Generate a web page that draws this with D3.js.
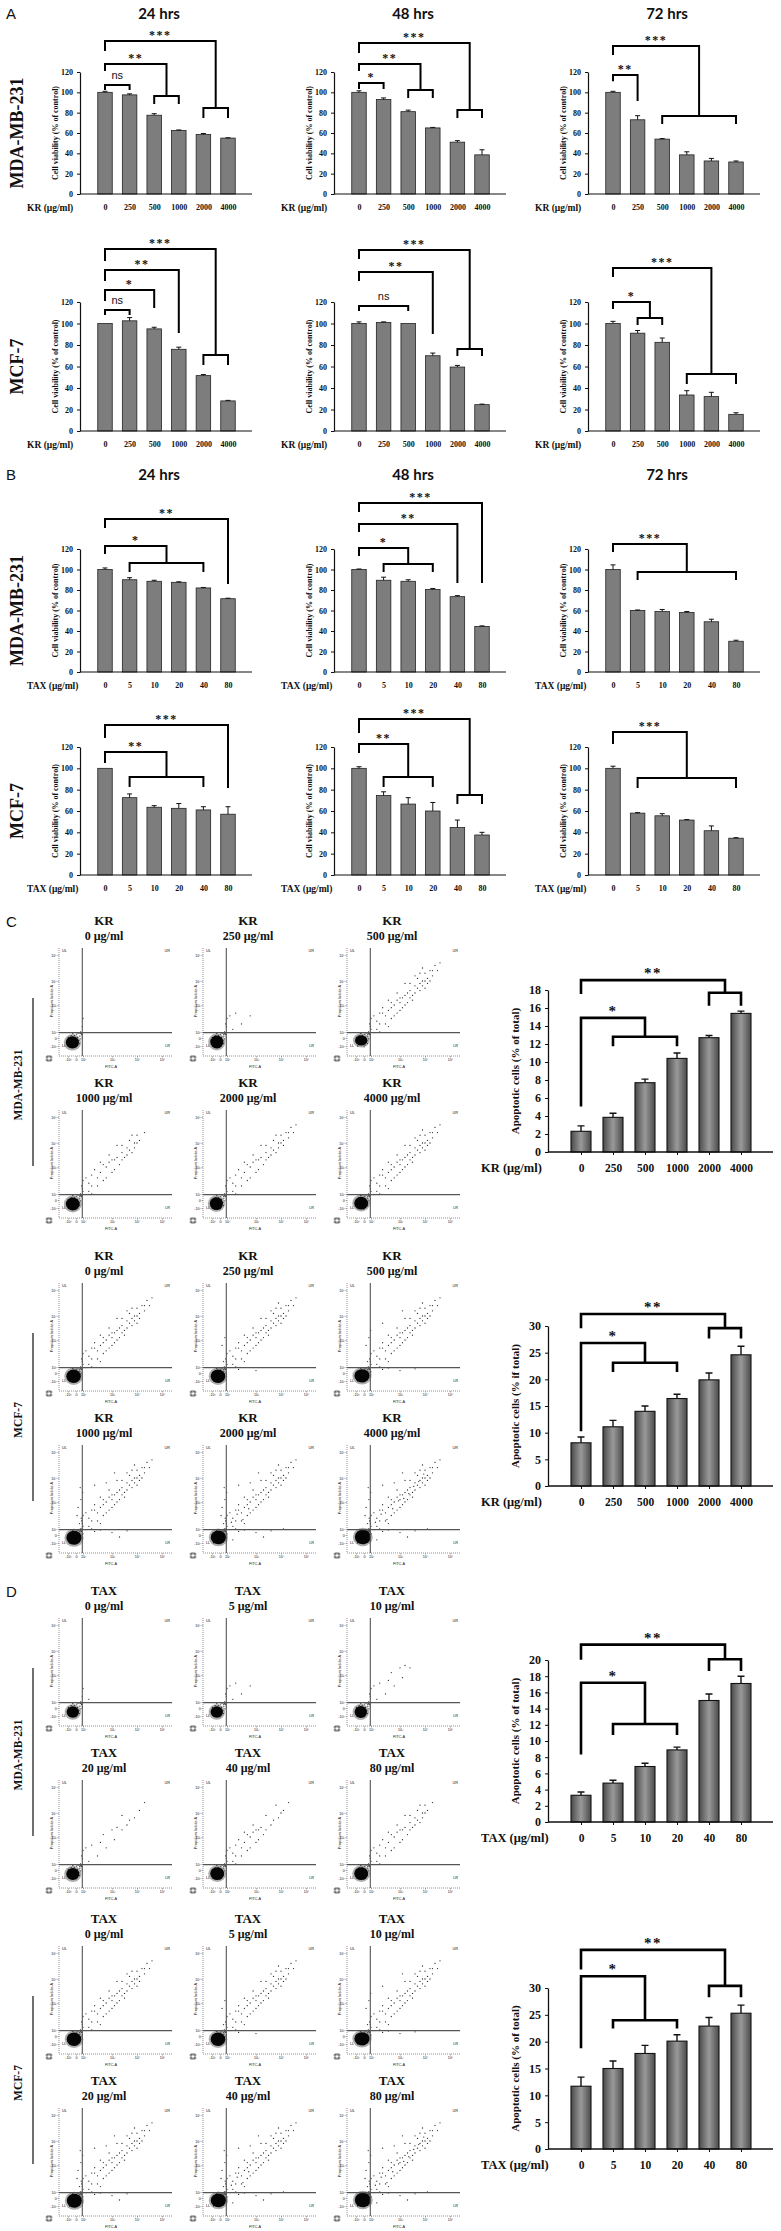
<!DOCTYPE html>
<html>
<head>
<meta charset="utf-8">
<script src="https://cdn.jsdelivr.net/npm/d3@7"></script>
<style>
  body { margin: 0; background: #fff; }
  svg { display: block; }
</style>
</head>
<body>
<script>
// ---- categories / ticks ----
var krDoses = ["0", "250", "500", "1000", "2000", "4000"];
var taxDoses = ["0", "5", "10", "20", "40", "80"];
var hourTitles = ["24 hrs", "48 hrs", "72 hrs"];
var viabilityTicks = [0, 20, 40, 60, 80, 100, 120];
var apoTicks18 = [0, 2, 4, 6, 8, 10, 12, 14, 16, 18];
var apoTicks20 = [0, 2, 4, 6, 8, 10, 12, 14, 16, 18, 20];
var apoTicks30 = [0, 5, 10, 15, 20, 25, 30];

// ---- cell viability (% of control), one list per time point ----
var krMdaMean = [[100, 97.5, 77.5, 62.5, 58.5, 55], [100, 93, 81, 65, 51, 38.5], [100, 73, 54, 38.5, 32.5, 31.5]];
var krMdaErr  = [[1, 1, 1.5, 0.5, 1, 0.3], [1.5, 1.5, 1.5, 0.5, 1.5, 5], [1, 4, 0.5, 3, 2.5, 1]];
var krMcfMean = [[100, 102.5, 95, 76, 51.5, 28], [100, 101, 100, 70, 59.5, 24.5], [100, 91, 82.5, 33.5, 32, 15.5]];
var krMcfErr  = [[0, 3, 1.5, 2, 1, 0.5], [1.5, 0.5, 0, 2.5, 1.5, 0.5], [2, 2.5, 4, 4, 4, 1.5]];
var taxMdaMean = [[100, 90, 88.5, 87.5, 82, 71.5], [100, 89.5, 88.5, 80.5, 73.5, 44.5], [100, 60, 59, 58, 49, 30]];
var taxMdaErr  = [[1.5, 2, 1, 0.5, 0.5, 0.5], [0.5, 3, 1.5, 1, 1, 0.5], [4.5, 0.5, 2, 1, 2.5, 1]];
var taxMcfMean = [[100, 72.5, 63.5, 62.5, 61, 57], [100, 74.5, 66.5, 60, 44.5, 37.5], [100, 58, 55.5, 51.5, 41.5, 34.5]];
var taxMcfErr  = [[0, 3.5, 1.5, 4.5, 3, 7], [1.5, 3.5, 6, 8, 7, 2.5], [2, 0.5, 2, 0.5, 4.5, 0.5]];

// significance brackets: [label, level, left leg end, target bar or [first,last], right level, sub leg end]
var krMdaBrackets = [
  [["***", 150.5, 141.6, [4, 5], 84.6, 75.7], ["**", 127.9, 122, [2, 3], 96.4, 89.5], ["ns", 107.2, 103.3, 1, 103.3]],
  [["***", 148.5, 139.7, [4, 5], 82.6, 75.7], ["**", 127.9, 122, [2, 3], 102.3, 95.4], ["*", 109.2, 104.3, 1, 104.3]],
  [["***", 145.6, 137.7, [2, 5], 76.7, 69.8], ["**", 117, 112, 1, 92.5]]
];
var krMcfBrackets = [
  [["***", 169.3, 159, [4, 5], 70.7, 62.3], ["**", 149.8, 140.5, 3, 92.1], ["*", 131.2, 121.9, 2, 115.3], ["ns", 112.6, 108.8, 1, 108.8]],
  [["***", 168.4, 161, [4, 5], 76.3, 70.7], ["**", 147.9, 140.5, 3, 91.2], ["ns", 116.3, 112.6, 2, 112.6]],
  [["***", 151.6, 144.2, [3, 5], 53, 44.7], ["*", 120, 114.4, [1, 2], 105.1, 99.5]]
];
var taxMdaBrackets = [
  [["**", 149.3, 141.5, 5, 86.8], ["*", 122.9, 116.1, [1, 4], 106.3, 98.5]],
  [["***", 164.9, 157, 5, 87.8], ["**", 144.4, 137.6, 4, 87.8], ["*", 121, 114.1, [1, 3], 105.4, 98.5]],
  [["***", 124.9, 118, [1, 5], 97.6, 90.7]]
];
var taxMcfBrackets = [
  [["***", 140.6, 129.4, 5, 82.5], ["**", 115.3, 105.9, [1, 4], 91.9, 83.4]],
  [["***", 146.2, 134, [4, 5], 75, 67.5], ["**", 122.8, 115.3, [1, 3], 91.9, 83.4]],
  [["***", 134, 123.7, [1, 5], 90.9, 82.5]]
];

// ---- apoptotic cells (%) ----
var krMdaApo = [2.3, 3.85, 7.7, 10.4, 12.7, 15.4];
var krMdaApoErr = [0.6, 0.45, 0.4, 0.6, 0.25, 0.25];
var krMcfApo = [8.1, 11.1, 14.0, 16.4, 19.9, 24.6];
var krMcfApoErr = [1.1, 1.2, 1.0, 0.8, 1.3, 1.6];
var taxMdaApo = [3.3, 4.8, 6.85, 8.9, 15.0, 17.1];
var taxMdaApoErr = [0.4, 0.35, 0.4, 0.35, 0.8, 0.9];
var taxMcfApo = [11.7, 15.0, 17.8, 20.1, 22.9, 25.3];
var taxMcfApoErr = [1.7, 1.4, 1.5, 1.2, 1.6, 1.5];

var krMdaApoBrackets = [["**", 19.1, 17.7, [4, 5], 17.7, 16.4], ["*", 14.9, 5.2, [1, 3], 12.8, 11.9]];
var krMcfApoBrackets = [["**", 32.25, 29.8, [4, 5], 29.6, 27.9], ["*", 26.8, 10.5, [1, 3], 23.1, 21.6]];
var taxMdaApoBrackets = [["**", 21.9, 20.2, [4, 5], 20.1, 18.8], ["*", 17.2, 8.5, [1, 3], 12.1, 10.9]];
var taxMcfApoBrackets = [["**", 37.1, 33.7, [4, 5], 30.4, 28.5], ["*", 32.2, 19, [1, 3], 24, 22.7]];

// ---- flow cytometry dot plots (values in signed log10 units) ----
var flowTickExp = [-2, 0, 2, 3, 4, 5];
var flowTickLabels = ["-10\u00b2", "0", "10\u00b2", "10\u00b3", "10\u2074", "10\u2075"];
// events, most common first
var flowEvents = [
  [0.4, 0.2], [0.8, -0.6], [-0.4, 0.9], [1.1, 0.6], [0.2, 1.3], [1.4, -0.2], [-1.2, 0.8], [0.6, 1.6],
  [1.6, 1.1], [-0.8, 1.5], [1.0, -1.4], [0.0, -2.2], [-1.6, -2.0], [1.8, 0.3], [0.3, -1.8], [-1.9, 0.2],
  [1.2, 1.5], [1.5, 1.7], [1.8, 2.2], [1.3, 2.0], [1.7, 1.4], [2.0, 2.5], [1.9, 1.9], [2.2, 2.1],
  [1.1, 1.2], [1.6, 2.3], [2.3, 2.7], [2.5, 2.3], [2.1, 2.6], [2.8, 2.6], [2.6, 2.8], [3.0, 3.3],
  [3.2, 3.4], [3.4, 3.3], [3.1, 2.9], [2.7, 3.1], [3.6, 3.5], [3.7, 3.7], [3.9, 3.8], [4.1, 4.1],
  [4.3, 4.4], [3.4, 3.9], [3.8, 4.3], [4.0, 4.0], [2.9, 3.2], [2.3, 2.3],
  [2.0, 2.1], [2.2, 2.4], [2.3, 2.0], [2.5, 2.6], [2.4, 2.9], [2.7, 2.5], [2.8, 3.0], [2.6, 3.2],
  [3.0, 2.8], [3.1, 3.3], [2.9, 3.5], [3.3, 3.1], [3.4, 3.6], [3.2, 3.9], [3.5, 3.4], [3.6, 3.8],
  [3.7, 4.1], [3.8, 3.6], [3.9, 4.0], [4.0, 4.3], [4.1, 3.9], [4.2, 4.4], [4.3, 4.2], [4.4, 4.6],
  [4.5, 4.4], [4.6, 4.7], [2.1, 1.8], [2.6, 2.2], [2.9, 2.7], [3.2, 3.0], [3.5, 3.2], [3.3, 3.5],
  [3.0, 3.1], [2.7, 2.9], [2.4, 2.7], [3.8, 3.9], [4.0, 3.7], [3.6, 4.2], [3.9, 4.5], [4.2, 4.0],
  [1.0, 2.2], [0.6, 2.8], [1.4, 3.1], [0.9, 1.9], [2.4, 1.2], [3.0, 0.8], [3.6, 1.4], [2.0, 0.4],
  [2.6, 1.7], [1.9, 3.4], [2.4, 3.7], [3.1, 4.2], [1.7, 2.0], [1.5, 2.4], [2.8, 3.8], [0.3, 2.5],
  [1.2, 3.6], [3.3, -0.5], [2.2, -1.2], [4.1, 2.0], [2.15, 2.25], [2.35, 2.55], [2.55, 2.35], [2.75, 2.75],
  [2.95, 3.05], [3.15, 3.15], [3.35, 3.35], [3.55, 3.65], [3.75, 3.85], [3.95, 4.15]
];
// main population per plot: [centre x, centre y, spread x, spread y]
var krMdaBlobs = [[-0.9, -1.1, 1.7, 1.6], [-0.8, -1.0, 1.7, 1.7], [-0.7, -0.6, 1.6, 1.4], [-0.8, -1.0, 1.8, 1.7], [-0.9, -0.9, 1.7, 1.7], [-0.7, -0.8, 1.8, 1.7]];
var krMdaEvents = [22, 30, 86, 66, 72, 86];
var krMcfBlobs = [[-0.6, -0.8, 1.9, 1.8], [-0.5, -0.8, 1.9, 1.8], [-0.5, -0.7, 2.0, 1.8], [-0.5, -0.7, 2.0, 1.9], [-0.4, -0.6, 2.0, 1.9], [-0.3, -0.5, 2.1, 2.0]];
var krMcfEvents = [84, 92, 98, 104, 110, 116];
var taxMdaBlobs = [[-0.8, -1.0, 1.6, 1.5], [-0.8, -1.0, 1.6, 1.5], [-0.8, -1.0, 1.6, 1.6], [-0.8, -1.0, 1.7, 1.6], [-0.7, -0.9, 1.8, 1.7], [-0.7, -0.9, 1.8, 1.7]];
var taxMdaEvents = [24, 30, 36, 42, 58, 66];
var taxMcfBlobs = [[-0.5, -0.8, 1.9, 1.8], [-0.5, -0.8, 1.9, 1.8], [-0.5, -0.7, 2.0, 1.8], [-0.4, -0.7, 2.0, 1.9], [-0.4, -0.6, 2.0, 1.9], [-0.3, -0.5, 2.1, 2.0]];
var taxMcfEvents = [84, 92, 98, 104, 110, 116];

// ---- drawing ----
var SERIF = "'Liberation Serif','Times New Roman',serif";
var SANS = "'Liberation Sans',Arial,sans-serif";
var TITLE = "Lato,'Open Sans',sans-serif";

var W = 781, H = 2231;
var svg = d3.select("body").append("svg").attr("width", W).attr("height", H);
svg.append("rect").attr("width", W).attr("height", H).attr("fill", "#fff");

var grad = svg.append("defs").append("linearGradient")
  .attr("id", "barGrad").attr("x1", 0).attr("x2", 1).attr("y1", 0).attr("y2", 0);
grad.append("stop").attr("offset", "0%").attr("stop-color", "#4a4a4a");
grad.append("stop").attr("offset", "50%").attr("stop-color", "#9a9a9a");
grad.append("stop").attr("offset", "100%").attr("stop-color", "#4a4a4a");

function styleText(sel, size, family, weight) {
  sel.attr("font-family", family || SERIF).attr("font-weight", weight || "bold")
    .attr("font-size", size).attr("fill", "#111");
}

function label(x, y, txt, size, family, weight, anchor) {
  var t = svg.append("text").attr("x", x).attr("y", y).attr("text-anchor", anchor || "middle").text(txt);
  styleText(t, size, family, weight);
  return t;
}

function vlabel(x, y, txt, size) {
  var t = svg.append("text").attr("transform", "translate(" + x + "," + y + ") rotate(-90)")
    .attr("text-anchor", "middle").text(txt);
  styleText(t, size);
  return t;
}

function drawBrackets(g, x, y, doses, list, sw, fs) {
  list.forEach(function (b) {
    var lab = b[0], level = b[1], lEnd = b[2], target = b[3], rLevel = b[4], subEnd = b[5];
    var xa = x(doses[0]), xr, p;
    if (Array.isArray(target)) {
      var x1 = x(doses[target[0]]), x2 = x(doses[target[1]]);
      xr = (x1 + x2) / 2;
      p = "M" + xa + "," + y(lEnd) + "V" + y(level) + "H" + xr + "V" + y(rLevel) +
          "M" + x1 + "," + y(subEnd) + "V" + y(rLevel) + "H" + x2 + "V" + y(subEnd);
    } else {
      xr = x(doses[target]);
      p = "M" + xa + "," + y(lEnd) + "V" + y(level) + "H" + xr + "V" + y(rLevel);
    }
    g.append("path").attr("d", p).attr("fill", "none").attr("stroke", "#000")
      .attr("stroke-width", sw).attr("stroke-linecap", "square");
    var t = g.append("text").attr("x", (xa + xr) / 2).attr("text-anchor", "middle").text(lab);
    if (lab === "ns") {
      t.attr("y", y(level) - 6);
      styleText(t, fs - 1, SANS, "normal");
    } else {
      t.attr("y", y(level) - 2).attr("letter-spacing", 1.5);
      styleText(t, fs);
    }
  });
}

function errorBars(g, x, y, doses, means, errs, cap, sw) {
  means.forEach(function (m, i) {
    if (!errs[i]) return;
    var cx = x(doses[i]), y1 = y(m), y2 = y(m + errs[i]);
    g.append("path").attr("d", "M" + cx + "," + y1 + "V" + y2 + "M" + (cx - cap / 2) + "," + y2 + "H" + (cx + cap / 2))
      .attr("stroke", "#111").attr("stroke-width", sw).attr("fill", "none");
  });
}

// viability bar chart (panels A and B)
function viability(ax, base, top, means, errs, doses, drug, brackets) {
  var g = svg.append("g");
  var y = d3.scaleLinear().domain([0, 120]).range([base, top]);
  var x = d3.scalePoint().domain(doses).range([ax + 25, ax + 148]);
  var bw = 14.5;

  g.selectAll("rect.bar").data(means).join("rect").attr("class", "bar")
    .attr("x", function (d, i) { return x(doses[i]) - bw / 2; })
    .attr("y", function (d) { return y(d); })
    .attr("width", bw)
    .attr("height", function (d) { return base - y(d); })
    .attr("fill", "#7d7d7d").attr("stroke", "#222").attr("stroke-width", 0.8);
  errorBars(g, x, y, doses, means, errs, 5, 1);

  var ya = g.append("g").attr("transform", "translate(" + ax + ",0)")
    .call(d3.axisLeft(y).tickValues(viabilityTicks).tickSize(3).tickSizeOuter(0).tickPadding(4));
  ya.select(".domain").attr("stroke", "#111").attr("stroke-width", 1.2);
  ya.selectAll(".tick line").attr("stroke", "#111");
  styleText(ya.selectAll("text"), 8);

  g.append("line").attr("x1", ax).attr("x2", ax + 172).attr("y1", base).attr("y2", base)
    .attr("stroke", "#111").attr("stroke-width", 1.2);
  var xa = g.append("g").attr("transform", "translate(0," + base + ")")
    .call(d3.axisBottom(x).tickSize(0).tickPadding(10));
  xa.select(".domain").remove();
  styleText(xa.selectAll("text"), 8);

  var xt = g.append("text").attr("x", ax - 53).attr("y", base + 17).text(drug + " (\u03bcg/ml)");
  styleText(xt, 9.5);
  var yt = g.append("text").attr("transform", "translate(" + (ax - 22) + "," + ((base + top) / 2) + ") rotate(-90)")
    .attr("text-anchor", "middle").text("Cell viability (% of control)");
  styleText(yt, 8);

  drawBrackets(g, x, y, doses, brackets, 2, 12);
}

var vAxisX = [80, 334, 588];
var vRows = [
  { base: 194, top: 72, cell: "MDA-MB-231", drug: "KR", doses: krDoses, means: krMdaMean, errs: krMdaErr, brk: krMdaBrackets },
  { base: 431, top: 302, cell: "MCF-7", drug: "KR", doses: krDoses, means: krMcfMean, errs: krMcfErr, brk: krMcfBrackets },
  { base: 672, top: 549, cell: "MDA-MB-231", drug: "TAX", doses: taxDoses, means: taxMdaMean, errs: taxMdaErr, brk: taxMdaBrackets },
  { base: 875, top: 747, cell: "MCF-7", drug: "TAX", doses: taxDoses, means: taxMcfMean, errs: taxMcfErr, brk: taxMcfBrackets }
];

vRows.forEach(function (r) {
  vAxisX.forEach(function (ax, h) {
    viability(ax, r.base, r.top, r.means[h], r.errs[h], r.doses, r.drug, r.brk[h]);
  });
  vlabel(23, (r.base + r.top) / 2, r.cell, 18);
});

// panel letters and time titles
label(6, 19, "A", 15, SANS, "normal", "start");
label(6, 480, "B", 15, SANS, "normal", "start");
label(6, 927, "C", 15, SANS, "normal", "start");
label(6, 1597, "D", 15, SANS, "normal", "start");
[19, 480].forEach(function (ty) {
  vAxisX.forEach(function (ax, h) { label(ax + 79, ty, hourTitles[h], 15, TITLE, "bold"); });
});

// apoptosis bar chart (panels C and D)
function apoptosis(base, top, ticks, means, errs, doses, drug, ylab, brackets) {
  var g = svg.append("g");
  var ax = 548;
  var y = d3.scaleLinear().domain([0, ticks[ticks.length - 1]]).range([base, top]);
  var x = d3.scalePoint().domain(doses).range([581, 741]);
  var bw = 20;

  g.selectAll("rect.bar").data(means).join("rect").attr("class", "bar")
    .attr("x", function (d, i) { return x(doses[i]) - bw / 2; })
    .attr("y", function (d) { return y(d); })
    .attr("width", bw)
    .attr("height", function (d) { return base - y(d); })
    .attr("fill", "url(#barGrad)").attr("stroke", "#111").attr("stroke-width", 1.1);
  errorBars(g, x, y, doses, means, errs, 7, 1.4);

  var ya = g.append("g").attr("transform", "translate(" + ax + ",0)")
    .call(d3.axisLeft(y).tickValues(ticks).tickSize(3).tickSizeOuter(0).tickPadding(4));
  ya.select(".domain").attr("stroke", "#111").attr("stroke-width", 1.3);
  ya.selectAll(".tick line").attr("stroke", "#111");
  styleText(ya.selectAll("text"), 12);

  g.append("line").attr("x1", ax).attr("x2", 773).attr("y1", base).attr("y2", base)
    .attr("stroke", "#111").attr("stroke-width", 1.3);
  var xa = g.append("g").attr("transform", "translate(0," + base + ")")
    .call(d3.axisBottom(x).tickSize(3).tickPadding(9));
  xa.select(".domain").remove();
  xa.selectAll(".tick line").attr("stroke", "#111");
  styleText(xa.selectAll("text"), 11.5);

  var xt = g.append("text").attr("x", 481).attr("y", base + 20).text(drug + " (\u03bcg/ml)");
  styleText(xt, 12.5);
  var yt = g.append("text").attr("transform", "translate(519," + ((base + top) / 2) + ") rotate(-90)")
    .attr("text-anchor", "middle").text(ylab);
  styleText(yt, 11);

  drawBrackets(g, x, y, doses, brackets, 2.6, 15);
}

apoptosis(1152, 990, apoTicks18, krMdaApo, krMdaApoErr, krDoses, "KR", "Apoptotic cells (% of total)", krMdaApoBrackets);
apoptosis(1486, 1326, apoTicks30, krMcfApo, krMcfApoErr, krDoses, "KR", "Apoptotic cells (% if total)", krMcfApoBrackets);
apoptosis(1822, 1660, apoTicks20, taxMdaApo, taxMdaApoErr, taxDoses, "TAX", "Apoptotic cells (% of total)", taxMdaApoBrackets);
apoptosis(2149, 1988, apoTicks30, taxMcfApo, taxMcfApoErr, taxDoses, "TAX", "Apoptotic cells (% of total)", taxMcfApoBrackets);

// flow cytometry dot plot
function flowPlot(L, T, blob, n) {
  var g = svg.append("g");
  var x = d3.scaleLinear().domain(flowTickExp).range([L + 9, L + 17, L + 24, L + 53, L + 78, L + 103]);
  var y = d3.scaleLinear().domain(flowTickExp).range([T + 98, T + 90, T + 84, T + 57, T + 33, T + 7]);

  g.append("path").attr("d", "M" + L + "," + T + "V" + (T + 108) + "H" + (L + 113))
    .attr("fill", "none").attr("stroke", "#777").attr("stroke-width", 0.8).attr("stroke-dasharray", "1,1");

  var ya = g.append("g").attr("transform", "translate(" + L + ",0)")
    .call(d3.axisLeft(y).tickValues(flowTickExp).tickFormat(function (d, i) { return flowTickLabels[i]; }).tickSize(1.5).tickPadding(0.8));
  ya.select(".domain").remove();
  ya.selectAll(".tick line").attr("stroke", "#666").attr("stroke-width", 0.5);
  styleText(ya.selectAll("text"), 3.6, SANS, "normal");
  var xa = g.append("g").attr("transform", "translate(0," + (T + 108) + ")")
    .call(d3.axisBottom(x).tickValues(flowTickExp).tickFormat(function (d, i) { return flowTickLabels[i]; }).tickSize(1.5).tickPadding(0.8));
  xa.select(".domain").remove();
  xa.selectAll(".tick line").attr("stroke", "#666").attr("stroke-width", 0.5);
  styleText(xa.selectAll("text"), 3.6, SANS, "normal");

  var pt = g.append("text").attr("transform", "translate(" + (L - 6) + "," + (T + 53) + ") rotate(-90)")
    .attr("text-anchor", "middle").text("Propidium Iodide-A");
  styleText(pt, 3.8, SANS, "normal");
  var ft = g.append("text").attr("x", L + 52).attr("y", T + 120).attr("text-anchor", "middle").text("FITC-A");
  styleText(ft, 3.8, SANS, "normal");

  [["UL", L + 3, T + 4, "start"], ["UR", L + 111, T + 4, "end"], ["LL", L + 3, T + 99, "start"], ["LR", L + 111, T + 99, "end"]]
    .forEach(function (q) {
      var t = g.append("text").attr("x", q[1]).attr("y", q[2]).attr("text-anchor", q[3]).text(q[0]);
      styleText(t, 3.8, SANS, "normal");
    });

  g.append("rect").attr("x", L - 12).attr("y", T + 108).attr("width", 4).attr("height", 5)
    .attr("fill", "none").attr("stroke", "#333").attr("stroke-width", 0.7);
  g.append("path").attr("d", "M" + (L - 13.5) + "," + (T + 109) + "H" + (L - 6.5) + "M" + (L - 13.5) + "," + (T + 112) + "H" + (L - 6.5))
    .attr("stroke", "#333").attr("stroke-width", 0.6);

  g.selectAll("circle.ev").data(flowEvents.slice(0, n)).join("circle").attr("class", "ev")
    .attr("cx", function (d) { return x(d[0]); })
    .attr("cy", function (d) { return y(d[1]); })
    .attr("r", 0.65).attr("fill", "#1a1a1a").attr("fill-opacity", 0.9);

  var rx = (x(blob[0] + blob[2]) - x(blob[0] - blob[2])) / 2;
  var ry = (y(blob[1] - blob[3]) - y(blob[1] + blob[3])) / 2;
  g.append("ellipse").attr("cx", x(blob[0])).attr("cy", y(blob[1]))
    .attr("rx", rx + 2).attr("ry", ry + 2).attr("fill", "#333").attr("fill-opacity", 0.4);
  g.append("ellipse").attr("cx", x(blob[0])).attr("cy", y(blob[1]))
    .attr("rx", rx).attr("ry", ry).attr("fill", "#050505");

  // quadrant gates
  g.append("path").attr("d", "M" + x(1.8) + "," + T + "V" + (T + 108) + "M" + L + "," + y(1.8) + "H" + (L + 113))
    .attr("stroke", "#555").attr("stroke-width", 1.1).attr("fill", "none");
}

var flowCols = [59, 203, 347];
var flowSections = [
  { titleY: 920, drug: "KR", doses: krDoses, blobs: krMdaBlobs, events: krMdaEvents, cell: "MDA-MB-231" },
  { titleY: 1255, drug: "KR", doses: krDoses, blobs: krMcfBlobs, events: krMcfEvents, cell: "MCF-7" },
  { titleY: 1590, drug: "TAX", doses: taxDoses, blobs: taxMdaBlobs, events: taxMdaEvents, cell: "MDA-MB-231" },
  { titleY: 1918, drug: "TAX", doses: taxDoses, blobs: taxMcfBlobs, events: taxMcfEvents, cell: "MCF-7" }
];

flowSections.forEach(function (s) {
  s.doses.forEach(function (dose, i) {
    var r = Math.floor(i / 3), c = i % 3;
    var L = flowCols[c], ty = s.titleY + r * 162;
    label(L + 45, ty + 5, s.drug, 13);
    label(L + 45, ty + 20, dose + " \u03bcg/ml", 12);
    flowPlot(L, ty + 28, s.blobs[i], s.events[i]);
  });
  svg.append("line").attr("x1", 33).attr("x2", 33).attr("y1", s.titleY + 78).attr("y2", s.titleY + 246)
    .attr("stroke", "#222").attr("stroke-width", 1.3);
  vlabel(22, s.titleY + 165, s.cell, 11.5);
});
</script>
</body>
</html>
